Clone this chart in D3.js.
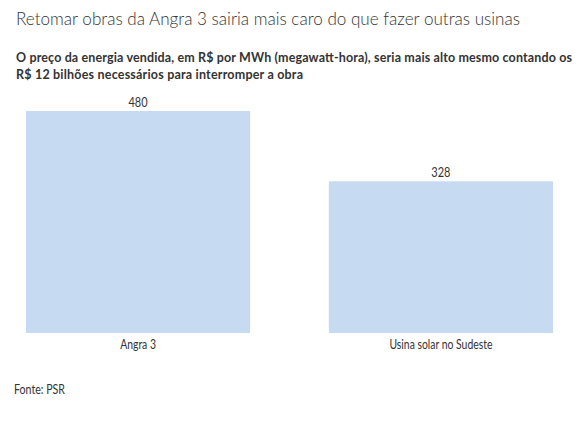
<!DOCTYPE html>
<html>
<head>
	<meta charset="utf-8">
	<title>Angra 3</title>
	<style type="text/css">
		body{ margin:0; background:#fff; }
		svg text{ font-family: Lato, "Open Sans", sans-serif; fill:#333; }
	</style>
</head>
<body>
	<svg width=586 height=425 class="bar-chart"></svg>
	<script type="text/javascript" src="https://cdn.jsdelivr.net/npm/d3@7/dist/d3.min.js"></script>
	<script type="text/javascript">

		// data
		categories = ['Angra 3', 'Usina solar no Sudeste']
		precos = [480, 328]

		titulo = 'Retomar obras da Angra 3 sairia mais caro do que fazer outras usinas'
		subtitulo = ['O preço da energia vendida, em R$ por MWh (megawatt-hora), seria mais alto mesmo contando os',
					 'R$ 12 bilhões necessários para interromper a obra']
		fonte = 'Fonte: PSR'

		svg = d3.select('.bar-chart')

		// the original uses a condensed face, squeeze the glyphs a bit
		function condense(sel, k){
			sel.each(function(){
				var w = this.getComputedTextLength()
				d3.select(this)
					.attr('textLength', w * k)
					.attr('lengthAdjust', 'spacingAndGlyphs')
			})
		}

		x = d3.scaleBand()
				.domain(categories)
				.range([26, 553])
				.paddingInner(0.26)
				.paddingOuter(0)

		y = d3.scaleLinear()
				.domain([0, 480])
				.range([333, 111])

		svg.append('text')
			.attr('x', 16)
			.attr('y', 25)
			.attr('font-size', 18.5)
			.attr('font-weight', 300)
			.attr('textLength', 504)
			.attr('lengthAdjust', 'spacingAndGlyphs')
			.text(titulo)

		svg.append('g')
			.selectAll('text')
			.data(subtitulo)
			.enter()
			.append('text')
			.attr('x', 16)
			.attr('y', function(d, i){ return 62 + i * 17 })
			.attr('font-size', 12.5)
			.attr('font-weight', 700)
			.attr('fill', '#222')
			.attr('textLength', function(d, i){ return i == 0 ? 556 : 287 })
			.text(function(d){ return d })

		g = svg.append('g')

		g.selectAll('rect')
			.data(precos)
			.enter()
			.append('rect')
			.attr('x', function(d, i){ return x(categories[i]) })
			.attr('y', function(d){ return y(d) })
			.attr('width', x.bandwidth())
			.attr('height', function(d){ return y(0) - y(d) })
			.attr('fill', '#c6dbf2')

		g.selectAll('.valor')
			.data(precos)
			.enter()
			.append('text')
			.attr('class', 'valor')
			.attr('x', function(d, i){ return x(categories[i]) + x.bandwidth() / 2 })
			.attr('y', function(d){ return y(d) - 4 })
			.attr('text-anchor', 'middle')
			.attr('font-size', 12.5)
			.text(function(d){ return d })
			.call(condense, 0.88)

		g.selectAll('.cat')
			.data(categories)
			.enter()
			.append('text')
			.attr('class', 'cat')
			.attr('x', function(d){ return x(d) + x.bandwidth() / 2 })
			.attr('y', 349)
			.attr('text-anchor', 'middle')
			.attr('font-size', 13)
			.text(function(d){ return d })
			.call(condense, 0.8)

		svg.append('text')
			.attr('x', 14)
			.attr('y', 394)
			.attr('font-size', 12.5)
			.text(fonte)
			.call(condense, 0.85)

	</script>
</body>
</html>
